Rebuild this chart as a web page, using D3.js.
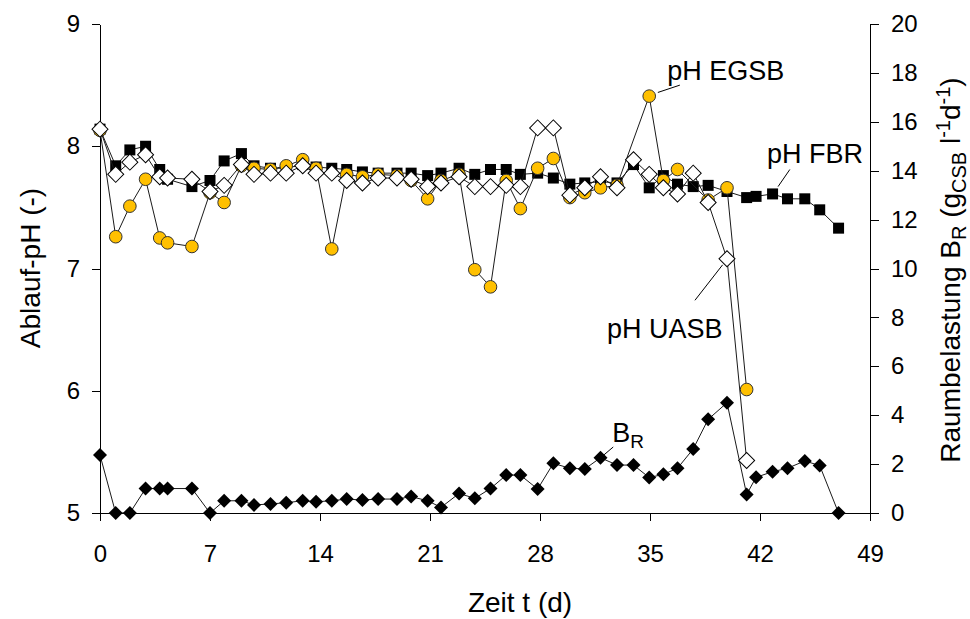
<!DOCTYPE html>
<html>
<head>
<meta charset="utf-8">
<script src="https://cdn.jsdelivr.net/npm/d3@7"></script>
<style>
  html, body { margin: 0; padding: 0; background: #fff; }
  svg { display: block; font-family: "Liberation Sans", Arial, sans-serif; }
</style>
</head>
<body>
<svg id="chart" width="970" height="619"></svg>
<script>
// sampling times (d)
const days = [0, 1, 1.9, 2.9, 3.8, 4.3, 5.85, 7, 7.9, 9, 9.8, 10.85, 11.85, 12.9, 13.75, 14.75,
  15.7, 16.7, 17.7, 18.9, 19.8, 20.85, 21.7, 22.85, 23.85, 24.85, 25.85, 26.75, 27.85, 28.85,
  29.9, 30.85, 31.85, 32.9, 33.95, 34.95, 35.85, 36.75, 37.75, 38.7, 39.9, 41.15, 41.75, 42.8,
  43.75, 44.85, 45.8, 47];

// effluent pH per reactor (null = no sample)
const phFBR = [8.14, 7.84, 7.97, 8.00, 7.81, 7.73, 7.67, 7.72, 7.88, 7.94,
  7.84, 7.82, 7.82, 7.85, 7.83, 7.82, 7.81, 7.79, 7.78, 7.78,
  7.78, 7.76, 7.78, 7.82, 7.77, 7.81, 7.81, 7.77, 7.78, 7.74,
  7.69, 7.70, 7.71, 7.70, 7.85, 7.66, 7.76, 7.69, 7.67, 7.68,
  7.63, 7.58, 7.59, 7.61, 7.57, 7.57, 7.48, 7.33];
const phEGSB = [8.13, 7.26, 7.51, 7.73, 7.25, 7.21, 7.18, 7.62, 7.54, 7.84,
  7.82, 7.81, 7.84, 7.89, 7.82, 7.16, 7.77, 7.75, 7.77, 7.76,
  7.72, 7.57, 7.72, 7.77, 6.99, 6.85, 7.72, 7.49, 7.82, 7.90,
  7.58, 7.62, 7.66, 7.68, null, 8.41, 7.72, 7.81, null, 7.56,
  7.66, 6.01, null, null, null, null, null, null];
const phUASB = [8.14, 7.77, 7.87, 7.93, 7.75, 7.74, 7.73, 7.63, 7.68, 7.85,
  7.77, 7.78, 7.78, 7.84, 7.78, 7.78, 7.72, 7.70, 7.74, 7.74,
  7.73, 7.67, 7.70, 7.75, 7.67, 7.67, 7.68, 7.67, 8.15, 8.15,
  7.60, 7.66, 7.75, 7.66, 7.89, 7.77, 7.66, 7.61, 7.78, 7.54,
  7.08, 5.43, null, null, null, null, null, null];

// volumetric load B_R (g COD / l d)
const loadBR = [2.37, 0, 0, 1.0, 1.0, 1.0, 1.0, 0, 0.5, 0.5,
  0.33, 0.37, 0.42, 0.5, 0.46, 0.5, 0.57, 0.53, 0.57, 0.57,
  0.67, 0.5, 0.23, 0.8, 0.6, 1.0, 1.55, 1.55, 0.98, 2.03,
  1.83, 1.8, 2.26, 1.96, 1.96, 1.45, 1.58, 1.83, 2.62, 3.83,
  4.51, 0.76, 1.46, 1.69, 1.83, 2.13, 1.94, 0];

const dayTicks = [0, 7, 14, 21, 28, 35, 42, 49];
const phTicks = [5, 6, 7, 8, 9];
const loadTicks = [0, 2, 4, 6, 8, 10, 12, 14, 16, 18, 20];

const svg = d3.select('#chart');
const x = d3.scaleLinear().domain([0, 49]).range([100, 870]);
const yL = d3.scaleLinear().domain([5, 9]).range([513, 24]);
const yR = d3.scaleLinear().domain([0, 20]).range([513, 24]);

const fontSize = 24;
const fmt = d3.format('d');

function styleAxis(g) {
  g.attr('font-size', fontSize).attr('font-family', '"Liberation Sans", Arial, sans-serif');
  g.selectAll('path, line').attr('stroke', '#000').attr('shape-rendering', 'crispEdges');
  g.selectAll('text').attr('fill', '#000');
}

svg.append('g')
  .attr('transform', 'translate(0,513)')
  .call(d3.axisBottom(x).tickValues(dayTicks).tickFormat(fmt).tickSize(8).tickSizeOuter(0).tickPadding(24))
  .call(styleAxis);

svg.append('g')
  .attr('transform', 'translate(100,0)')
  .call(d3.axisLeft(yL).tickValues(phTicks).tickFormat(fmt).tickSize(8).tickSizeOuter(0).tickPadding(12))
  .call(styleAxis);

svg.append('g')
  .attr('transform', 'translate(870,0)')
  .call(d3.axisRight(yR).tickValues(loadTicks).tickFormat(fmt).tickSize(9).tickSizeOuter(0).tickPadding(12))
  .call(styleAxis);

// series
const square = d3.symbol(d3.symbolSquare, 121)();
const circle = d3.symbol(d3.symbolCircle, 125)();
const bigDiamond = d3.symbol(d3.symbolSquare, 128)();
const smallDiamond = d3.symbol(d3.symbolSquare, 98)();

function drawSeries(values, yScale, marker, rotate, fill, stroke) {
  const pts = days.map((d, i) => ({ d, v: values[i] })).filter(p => p.v != null);
  const line = d3.line().x(p => x(p.d)).y(p => yScale(p.v));
  const g = svg.append('g');
  g.append('path')
    .attr('d', line(pts))
    .attr('fill', 'none')
    .attr('stroke', '#1a1a1a')
    .attr('stroke-width', 1);
  g.selectAll('path.m')
    .data(pts)
    .enter()
    .append('path')
    .attr('class', 'm')
    .attr('d', marker)
    .attr('transform', p => `translate(${x(p.d)},${yScale(p.v)})` + (rotate ? ' rotate(45)' : ''))
    .attr('fill', fill)
    .attr('stroke', stroke)
    .attr('stroke-width', stroke === 'none' ? 0 : 1);
}

drawSeries(loadBR, yR, smallDiamond, true, '#000', 'none');
drawSeries(phFBR, yL, square, false, '#000', 'none');
drawSeries(phEGSB, yL, circle, false, '#FFC000', '#333');
drawSeries(phUASB, yL, bigDiamond, true, '#fff', '#000');

// annotations with leader lines
const labelSize = 27;
function label(text, d, ph, ld) {
  svg.append('line')
    .attr('x1', x(ld[0])).attr('y1', yL(ld[1]))
    .attr('x2', x(ld[2])).attr('y2', yL(ld[3]))
    .attr('stroke', '#000').attr('stroke-width', 1);
  return svg.append('text')
    .attr('x', x(d)).attr('y', yL(ph))
    .attr('font-size', labelSize)
    .text(text);
}

label('pH EGSB', 36.1, 8.54, [35.5, 8.44, 36.9, 8.50]);
label('pH FBR', 42.45, 7.86, [43.15, 7.67, 43.9, 7.81]);
label('pH UASB', 32.26, 6.43, [37.86, 6.74, 39.62, 7.03]);
const br = label('B', 32.6, 5.58, [31.93, 5.46, 32.66, 5.54]);
br.append('tspan').attr('font-size', 19).attr('dy', 6).text('R');

// axis titles
const titleSize = 28;
const subSize = 20;

svg.append('text')
  .attr('transform', 'translate(40,268) rotate(-90)')
  .attr('text-anchor', 'middle')
  .attr('font-size', titleSize)
  .text('Ablauf-pH (-)');

svg.append('text')
  .attr('x', 520).attr('y', 612)
  .attr('text-anchor', 'middle')
  .attr('font-size', titleSize)
  .text('Zeit t (d)');

const rt = svg.append('text')
  .attr('transform', 'translate(960,270) rotate(-90)')
  .attr('text-anchor', 'middle')
  .attr('font-size', titleSize);
rt.append('tspan').text('Raumbelastung B');
rt.append('tspan').attr('font-size', subSize).attr('dy', 6).text('R');
rt.append('tspan').attr('dy', -6).text(' (g');
rt.append('tspan').attr('font-size', subSize).attr('dy', 6).text('CSB');
rt.append('tspan').attr('dy', -6).text(' l');
rt.append('tspan').attr('font-size', subSize).attr('dy', -10).text('-1');
rt.append('tspan').attr('dy', 10).text('d');
rt.append('tspan').attr('font-size', subSize).attr('dy', -10).text('-1');
rt.append('tspan').attr('dy', 10).text(')');
</script>
</body>
</html>
